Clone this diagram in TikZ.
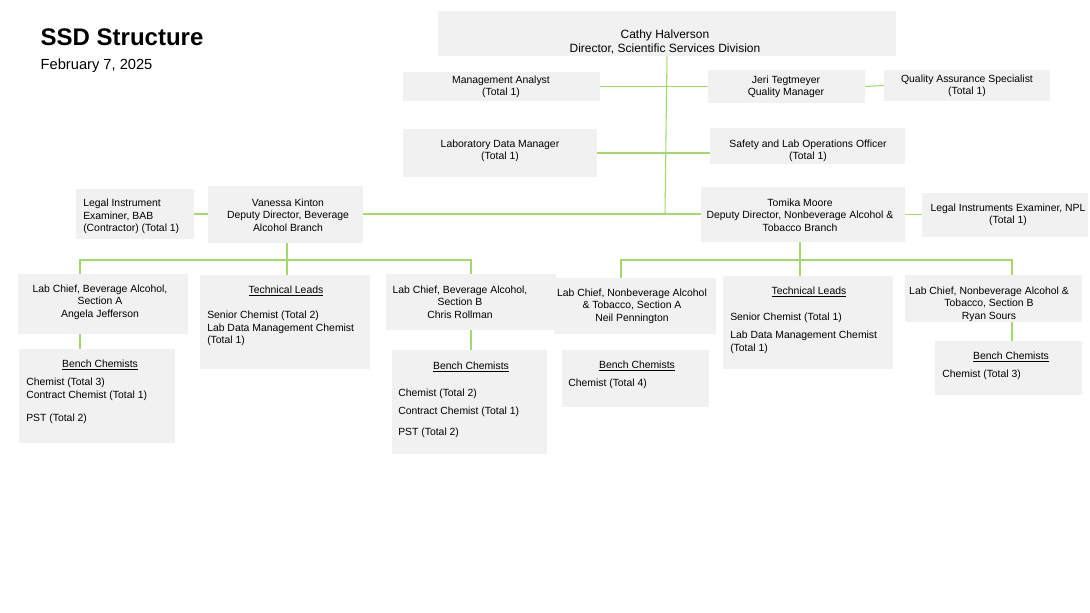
\documentclass[tikz,border=0pt]{standalone}
\usepackage{fontspec}
\setmainfont{Liberation Sans}
\usepackage{tikz}

\definecolor{boxgray}{HTML}{F1F1F1}
\definecolor{linkgreen}{HTML}{A5D86A}

\tikzset{
  card/.style={fill=boxgray,draw=none,inner sep=0pt},
  txt/.style={font=\fontsize{7.8}{9.4}\selectfont,align=center,inner sep=0pt},
  ltxt/.style={font=\fontsize{7.8}{9.4}\selectfont,align=left,inner sep=0pt,anchor=north west},
  link/.style={linkgreen,line width=0.8pt}
}
% box from (x0,y0) to (x1,y1) in pixel units
\newcommand{\card}[5]{\path[card] (#2,#3) rectangle (#4,#5);
  \node[inner sep=0pt,minimum width={(#4-#2)*0.75pt},minimum height={(#5-#3)*0.75pt}] (#1) at ({(#2+#4)/2},{(#3+#5)/2}) {};}

\begin{document}
\begin{tikzpicture}[x=0.75pt,y=-0.75pt]
\useasboundingbox (0,0) rectangle (1090,613);

%titel
\node[anchor=west,font=\fontsize{18}{20}\selectfont\bfseries] (title) at (36,37) {SSD Structure};
\node[anchor=west,font=\fontsize{11}{13}\selectfont] (date) at (36,66) {February 7, 2025};

%vodstvo
\card{dir}{438}{11}{896}{56}
\node[txt,font=\fontsize{9}{10.5}\selectfont] at (665,42) {Cathy Halverson\\Director, Scientific Services Division};
\card{ma}{403}{72}{600}{101}
\node[txt] at (501,87) {Management Analyst\\(Total 1)};
\card{qm}{708}{70}{865}{103}
\node[txt] at (786,87) {Jeri Tegtmeyer\\Quality Manager};
\card{qa}{884}{70}{1050}{101}
\node[txt] at (967,86) {Quality Assurance Specialist\\(Total 1)};
\card{ldm}{403}{129}{597}{177}
\node[txt] at (500,151) {Laboratory Data Manager\\(Total 1)};
\card{slo}{710}{128}{905}{164}
\node[txt] at (808,151) {Safety and Lab Operations Officer\\(Total 1)};

%namestniki
\card{bab}{76}{189}{194}{239}
\node[ltxt] at (83,199) {Legal Instrument\\Examiner, BAB\\(Contractor) (Total 1)};
\card{vk}{208}{186}{363}{243}
\node[txt] at (288,215) {Vanessa Kinton\\Deputy Director, Beverage\\Alcohol Branch};
\card{tm}{701}{187}{905}{242}
\node[txt] at (800,215) {Tomika Moore\\Deputy Director, Nonbeverage Alcohol \&\\Tobacco Branch};
\card{npl}{922}{193}{1088}{237}
\node[txt] at (1008,215) {Legal Instruments Examiner, NPL\\(Total 1)};

%veja BA
\card{bacA}{18}{274}{188}{334}
\node[txt] at (100,302) {Lab Chief, Beverage Alcohol,\\Section A\\Angela Jefferson};
\card{tlL}{200}{275}{370}{369}
\node[txt] at (286,291) {\underline{Technical Leads}};
\node[ltxt] at (207,311) {Senior Chemist (Total 2)\\Lab Data Management Chemist\\(Total 1)};
\card{bacB}{386}{274}{556}{330}
\node[txt] at (460,302) {Lab Chief, Beverage Alcohol,\\Section B\\Chris Rollman};
\card{bcA}{19}{349}{175}{443}
\node[txt] at (100,365) {\underline{Bench Chemists}};
\node[ltxt] at (26,378) {Chemist (Total 3)\\Contract Chemist (Total 1)\\[8pt]PST (Total 2)};
\card{bcB}{392}{350}{547}{454}
\node[txt] at (471,367) {\underline{Bench Chemists}};
\node[ltxt] at (398,389) {Chemist (Total 2)\\[4pt]Contract Chemist (Total 1)\\[6pt]PST (Total 2)};

%veja NBA
\card{ncA}{554}{278}{716}{334}
\node[txt] at (632,306) {Lab Chief, Nonbeverage Alcohol\\\& Tobacco, Section A\\Neil Pennington};
\card{tlR}{723}{276}{893}{369}
\node[txt] at (809,292) {\underline{Technical Leads}};
\node[ltxt] at (730,313) {Senior Chemist (Total 1)\\[4pt]Lab Data Management Chemist\\(Total 1)};
\card{ncB}{905}{275}{1082}{322}
\node[txt] at (989,304) {Lab Chief, Nonbeverage Alcohol \&\\Tobacco, Section B\\Ryan Sours};
\card{bnA}{562}{350}{709}{407}
\node[txt] at (637,366) {\underline{Bench Chemists}};
\node[ltxt] at (568,379) {Chemist (Total 4)};
\card{bnB}{935}{341}{1082}{395}
\node[txt] at (1011,357) {\underline{Bench Chemists}};
\node[ltxt] at (942,370) {Chemist (Total 3)};

%povezave
\coordinate (trunk) at (665,214);
\coordinate (barL) at (287,260);
\coordinate (barR) at (800,260);
\draw[link] (dir.south) -- (trunk);
\draw[link] (ma.east) -- (qm.west);
\draw[link] (qm.east) -- (qa.west);
\draw[link] (ldm.east) -- (ldm.east -| slo.west);
\draw[link] (vk.east |- trunk) -- (tm.west |- trunk);
\draw[link] (bab.east) -- (bab.east -| vk.west);
\draw[link] (tm.east) -- (tm.east -| npl.west);
\draw[link] (barL |- vk.south) -- (barL) -- (barL |- tlL.north);
\draw[link] (80,274) -- (80,260) -- (471,260) -- (471,274);
\draw[link] (barR |- tm.south) -- (barR) -- (barR |- tlR.north);
\draw[link] (621,278) -- (621,260) -- (1012,260) -- (1012,275);
\draw[link] (bacA.south -| 80,0) -- (bcA.north -| 80,0);
\draw[link] (bacB.south -| 471,0) -- (bcB.north -| 471,0);
\draw[link] (ncB.south -| 1012,0) -- (bnB.north -| 1012,0);
\end{tikzpicture}
\end{document}
